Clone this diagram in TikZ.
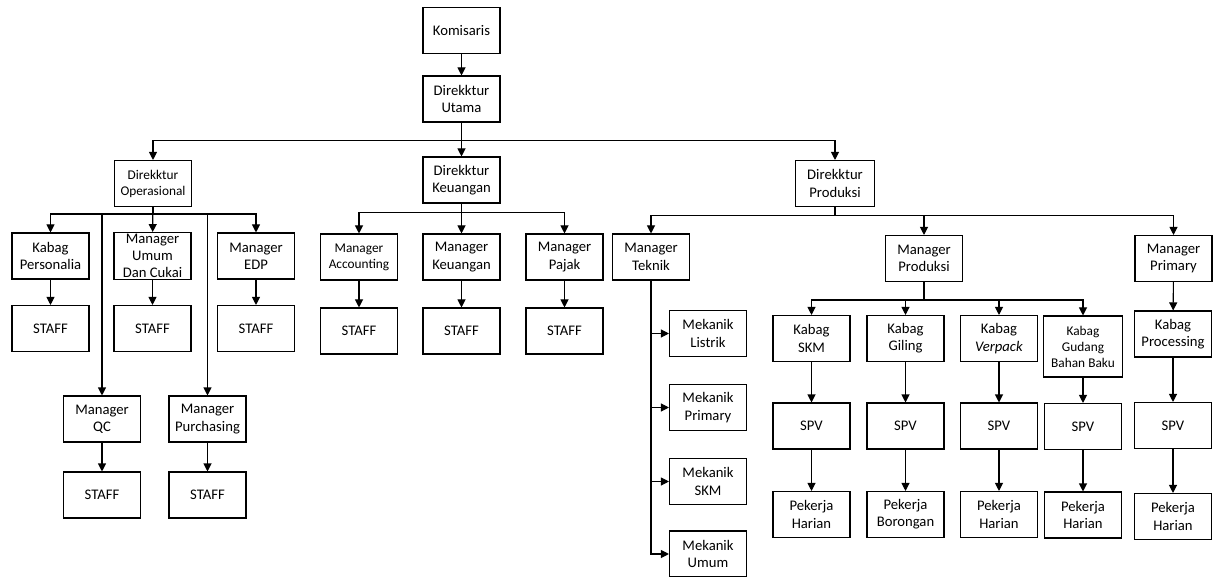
\documentclass[tikz,border=0pt]{standalone}
\usepackage{fontspec}
\setmainfont{Carlito}
\usepackage{tikz}
\usetikzlibrary{arrows.meta}

\tikzset{
  box/.style={draw, line width=0.8pt, fill=white, align=center,
    minimum width=57.75pt, minimum height=34.5pt, inner sep=1pt,
    font=\fontsize{11}{13}\selectfont},
  smalltxt/.style={font=\fontsize{10}{12}\selectfont},
  arr/.style={line width=0.8pt, -{Triangle[length=6pt,width=6pt]}},
}

\begin{document}
\begin{tikzpicture}[x=0.75pt,y=-0.75pt]
  \useasboundingbox (0,0) rectangle (1214,577);
  % top
  \node[box] (kom) at (461.5,30.5) {Komisaris};
  \node[box] (utama) at (461.5,99) {Direkktur\\Utama};
  \node[box, smalltxt] (oper) at (153,183.5) {Direkktur\\Operasional};
  \node[box] (dkeu) at (461.5,180) {Direkktur\\Keuangan};
  \node[box, minimum width=59pt] (dprod) at (835,183.5) {Direkktur\\Produksi};
  % operasional
  \node[box] (pers) at (50.5,256) {Kabag\\Personalia};
  \node[box] (umum) at (152.5,256) {Manager\\Umum\\Dan Cukai};
  \node[box] (edp) at (256,256) {Manager\\EDP};
  \node[box] (st1) at (50.5,328.5) {STAFF};
  \node[box] (st2) at (152.5,328.5) {STAFF};
  \node[box] (st3) at (256,328.5) {STAFF};
  \node[box] (qc) at (102,419) {Manager\\QC};
  \node[box] (purch) at (207.5,419) {Manager\\Purchasing};
  \node[box] (st4) at (102,495) {STAFF};
  \node[box] (st5) at (207.5,495) {STAFF};
  % keuangan
  \node[box, smalltxt] (acc) at (359,257) {Manager\\Accounting};
  \node[box] (mkeu) at (461.5,257) {Manager\\Keuangan};
  \node[box] (pajak) at (564.5,257) {Manager\\Pajak};
  \node[box] (st6) at (359,331) {STAFF};
  \node[box] (st7) at (461.5,331) {STAFF};
  \node[box] (st8) at (564.5,331) {STAFF};
  % produksi
  \node[box] (teknik) at (651,257) {Manager\\Teknik};
  \node[box] (mprod) at (924,258.5) {Manager\\Produksi};
  \node[box] (mprim) at (1173.5,258.5) {Manager\\Primary};
  \node[box] (mlis) at (708,333.5) {Mekanik\\Listrik};
  \node[box] (mpri) at (708,407.5) {Mekanik\\Primary};
  \node[box] (mskm) at (708,481.5) {Mekanik\\SKM};
  \node[box] (mumum) at (708,554) {Mekanik\\Umum};
  \node[box] (kskm) at (811.5,338.5) {Kabag\\SKM};
  \node[box] (kgil) at (905.5,338.5) {Kabag\\Giling};
  \node[box] (kver) at (999,338.5) {Kabag\\\textit{Verpack}};
  \node[box, smalltxt, minimum width=59pt, minimum height=45.75pt] (kgud) at (1083,346.5) {Kabag\\Gudang\\Bahan Baku};
  \node[box] (kproc) at (1173,334) {Kabag\\Processing};
  \node[box] (spv1) at (811.5,426) {SPV};
  \node[box] (spv2) at (905.5,426) {SPV};
  \node[box] (spv3) at (999,426) {SPV};
  \node[box] (spv4) at (1083,426.5) {SPV};
  \node[box] (spv5) at (1173,425.5) {SPV};
  \node[box] (pk1) at (811.5,514.5) {Pekerja\\Harian};
  \node[box] (pk2) at (905.5,514.5) {Pekerja\\Borongan};
  \node[box] (pk3) at (999,514.5) {Pekerja\\Harian};
  \node[box] (pk4) at (1083,515) {Pekerja\\Harian};
  \node[box] (pk5) at (1173,516.5) {Pekerja\\Harian};

  \draw[arr] (kom) -- (utama);
  \draw[arr] (utama) -- (dkeu);
  \draw[arr] (utama.south) -- ++(0,18) -| (oper.north);
  \draw[arr] (utama.south) -- ++(0,18) -| (dprod.north);

  \draw[arr] (oper) -- (umum);
  \draw[arr] (oper.south) -- ++(0,7) -| (pers.north);
  \draw[arr] (oper.south) -- ++(0,7) -| (edp.north);
  \draw[arr] (oper.south) -- ++(0,7) -| (qc.north);
  \draw[arr] (oper.south) -- ++(0,7) -| (purch.north);
  \draw[arr] (pers) -- (st1);
  \draw[arr] (umum) -- (st2);
  \draw[arr] (edp) -- (st3);
  \draw[arr] (qc) -- (st4);
  \draw[arr] (purch) -- (st5);

  \draw[arr] (dkeu) -- (mkeu);
  \draw[arr] (dkeu.south) -- ++(0,9) -| (acc.north);
  \draw[arr] (dkeu.south) -- ++(0,9) -| (pajak.north);
  \draw[arr] (acc) -- (st6);
  \draw[arr] (mkeu) -- (st7);
  \draw[arr] (pajak) -- (st8);

  \draw[arr] (dprod.south) -- ++(0,8.5) -| (teknik.north);
  \draw[arr] (dprod.south) -- ++(0,8.5) -| (mprod.north);
  \draw[arr] (dprod.south) -- ++(0,8.5) -| (mprim.north);
  \draw[arr] (teknik.south) |- (mlis.west);
  \draw[arr] (teknik.south) |- (mpri.west);
  \draw[arr] (teknik.south) |- (mskm.west);
  \draw[arr] (teknik.south) |- (mumum.west);

  \draw[arr] (mprod.south) -- ++(0,18) -| (kskm.north);
  \draw[arr] (mprod.south) -- ++(0,18) -| (kgil.north);
  \draw[arr] (mprod.south) -- ++(0,18) -| (kver.north);
  \draw[arr] (mprod.south) -- ++(0,18) -| (kgud.north);
  \draw[arr] (mprim) -- (kproc);
  \draw[arr] (kskm) -- (spv1);
  \draw[arr] (kgil) -- (spv2);
  \draw[arr] (kver) -- (spv3);
  \draw[arr] (kgud) -- (spv4);
  \draw[arr] (kproc) -- (spv5);
  \draw[arr] (spv1) -- (pk1);
  \draw[arr] (spv2) -- (pk2);
  \draw[arr] (spv3) -- (pk3);
  \draw[arr] (spv4) -- (pk4);
  \draw[arr] (spv5) -- (pk5);
\end{tikzpicture}
\end{document}
